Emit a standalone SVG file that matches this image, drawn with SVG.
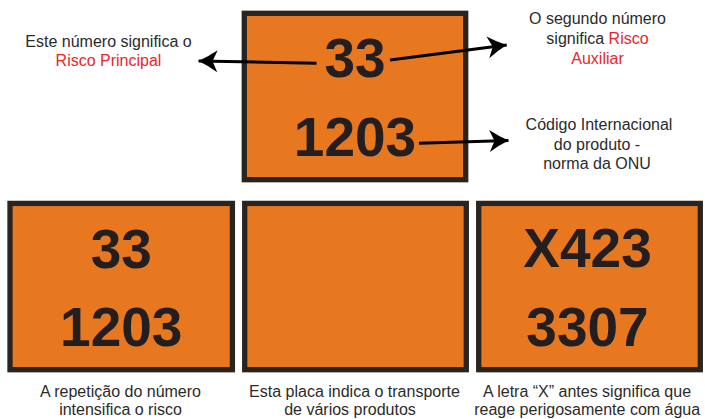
<svg xmlns="http://www.w3.org/2000/svg" width="705" height="419" viewBox="0 0 705 419">
<style>
.plate{fill:#E8781F;stroke:#2A2421;stroke-width:5.3}
.num{font-family:"Liberation Sans",Arial,sans-serif;font-weight:bold;font-size:55px;fill:#231F20;text-anchor:middle}
.lbl{font-family:"Liberation Sans",Arial,sans-serif;font-size:16px;fill:#2B2B2B;text-anchor:middle}
.red{fill:#E8262B}
.conn{stroke:#000;stroke-width:3;fill:none}
</style>
<defs>
<marker id="ah" markerUnits="userSpaceOnUse" markerWidth="30" markerHeight="30" viewBox="-25 -15 30 30" refX="0" refY="0" orient="auto">
<path d="M0,0 Q-9,-4 -19,-11 L-14,0 L-19,11 Q-9,4 0,0 Z" fill="#000"/>
</marker>
</defs>
<rect width="705" height="419" fill="#fff"/>
<g id="plate-main">
<rect class="plate" x="244.3" y="13.3" width="221.4" height="166.4"/>
<text class="num" x="355" y="76.5">33</text>
<text class="num" x="355" y="156">1203</text>
</g>
<g id="label-principal">
<text class="lbl" x="108.5" y="46.5">Este número significa o</text>
<text class="lbl red" x="108.5" y="66">Risco Principal</text>
</g>
<g id="label-auxiliar">
<text class="lbl" x="597.5" y="24">O segundo número</text>
<text class="lbl" x="597.5" y="44">significa <tspan class="red">Risco</tspan></text>
<text class="lbl red" x="597.5" y="64">Auxiliar</text>
</g>
<g id="label-codigo">
<text class="lbl" x="599" y="130">Código Internacional</text>
<text class="lbl" x="597" y="149.5">do produto -</text>
<text class="lbl" x="597" y="169">norma da ONU</text>
</g>
<g id="connectors">
<line class="conn" x1="316.5" y1="63.3" x2="198.5" y2="61" marker-end="url(#ah)"/>
<line class="conn" x1="390" y1="60" x2="506.7" y2="45" marker-end="url(#ah)"/>
<line class="conn" x1="419" y1="143.3" x2="508.5" y2="140.5" marker-end="url(#ah)"/>
</g>
<g id="plate-repeat">
<rect class="plate" x="10" y="203.4" width="222.4" height="166.3"/>
<text class="num" x="121.3" y="267.5">33</text>
<text class="num" x="121.3" y="346.3">1203</text>
<text class="lbl" x="120.5" y="396.5">A repetição do número</text>
<text class="lbl" x="120.5" y="415.3">intensifica o risco</text>
</g>
<g id="plate-blank">
<rect class="plate" x="244.7" y="203.4" width="221.6" height="166.3"/>
<text class="lbl" x="354.5" y="396.5">Esta placa indica o transporte</text>
<text class="lbl" x="350" y="415.3">de vários produtos</text>
</g>
<g id="plate-x">
<rect class="plate" x="478.7" y="203.4" width="221.6" height="166.3"/>
<text class="num" x="587.5" y="266.5">X423</text>
<text class="num" x="587.5" y="345.5">3307</text>
<text class="lbl" x="587" y="396.5">A letra “X” antes significa que</text>
<text class="lbl" x="587.2" y="415.3">reage perigosamente com água</text>
</g>
</svg>
